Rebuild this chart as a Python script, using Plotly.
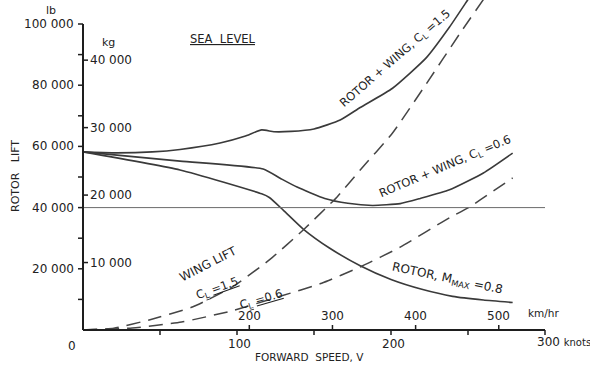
import plotly.graph_objects as go

# ---------------- data (forward speed in knots, lift in lb) ----------------
speed_rw15 = [0, 20, 45, 63, 89, 105, 116, 124, 135, 150, 167, 180, 201, 223, 238, 250, 254]
lift_rw15 = [58200, 57900, 58200, 59000, 61100, 63300, 65400, 64800, 64900, 65700, 68600, 72700,
             79000, 89000, 99000, 108000, 111000]

speed_rw06 = [0, 63, 117, 128, 139, 157, 172, 188, 206, 219, 238, 260, 279]
lift_rw06 = [58200, 55200, 52600, 49600, 46700, 43000, 41400, 40700, 41300, 43000, 45800, 51300, 57800]

speed_rotor = [0, 63, 116, 121, 130, 143, 160, 180, 200, 220, 240, 260, 279]
lift_rotor = [58200, 52300, 44500, 43300, 39200, 33000, 26800, 21000, 16500, 13300, 11000, 9800, 9000]

speed_wing15 = [0, 20, 43, 71, 97, 121, 143, 165, 180, 201, 223, 245, 260]
lift_wing15 = [0, 600, 3300, 7500, 14100, 22900, 32700, 43500, 52300, 64400, 80500, 97100, 108000]

speed_wing06 = [0, 32, 64, 97, 128, 155, 180, 206, 238, 250, 279]
lift_wing06 = [0, 650, 2600, 6300, 11000, 15300, 20600, 27100, 36700, 39900, 49700]

design_lift = 40000
design_speeds = [0, 300]

lb_ticks_major = [20000, 40000, 60000, 80000, 100000]
lb_ticks_minor = [10000, 30000, 50000, 70000, 90000]
kg_ticks = [10000, 20000, 30000, 40000]
LB_PER_KG = 2.20462
knot_ticks_major = [0, 100, 200, 300]
knot_ticks_minor = [50, 150, 250]
kmh_ticks = [200, 300, 400, 500]
KMH_PER_KNOT = 1.852

W, H = 590, 365
INK = "#222222"
LINE = "#3a3a3a"
FONT = "DejaVu Sans"


def fmt(v):
    return f"{int(v):,}".replace(",", " ")


def px(x, y):
    return x / W, 1 - y / H


fig = go.Figure()

solid = dict(color=LINE, width=1.6, shape="spline", smoothing=0.5)
fig.add_trace(go.Scatter(x=speed_rw15, y=lift_rw15, mode="lines", line=solid, hoverinfo="skip"))
fig.add_trace(go.Scatter(x=speed_rw06, y=lift_rw06, mode="lines", line=solid, hoverinfo="skip"))
fig.add_trace(go.Scatter(x=speed_rotor, y=lift_rotor, mode="lines", line=solid, hoverinfo="skip"))
dashed = dict(color="#454545", width=1.5, dash="14px,8px", shape="spline", smoothing=0.5)
fig.add_trace(go.Scatter(x=speed_wing15, y=lift_wing15, mode="lines", line=dashed, hoverinfo="skip"))
fig.add_trace(go.Scatter(x=speed_wing06, y=lift_wing06, mode="lines", line=dashed, hoverinfo="skip"))
fig.add_trace(go.Scatter(x=design_speeds, y=[design_lift, design_lift], mode="lines",
                         line=dict(color="#6a6a6a", width=1), hoverinfo="skip"))

shapes = []
# axis lines
shapes.append(dict(type="line", x0=0, x1=0, y0=0, y1=lb_ticks_major[-1], xref="x", yref="y",
                   line=dict(color="#1e1e1e", width=2)))
shapes.append(dict(type="line", x0=0, x1=knot_ticks_major[-1], y0=0, y1=0, xref="x", yref="y",
                   line=dict(color="#1e1e1e", width=2)))
tick_line = dict(color="#1e1e1e", width=1.5)
for v in lb_ticks_major + lb_ticks_minor:
    shapes.append(dict(type="line", xref="x", yref="y", xsizemode="pixel", xanchor=0,
                       x0=-5, x1=0, y0=v, y1=v, line=tick_line))
for v in kg_ticks:
    shapes.append(dict(type="line", xref="x", yref="y", xsizemode="pixel", xanchor=0,
                       x0=0, x1=5, y0=v * LB_PER_KG, y1=v * LB_PER_KG, line=tick_line))
for v in knot_ticks_major[1:] + knot_ticks_minor:
    shapes.append(dict(type="line", xref="x", yref="y", ysizemode="pixel", yanchor=0,
                       x0=v, x1=v, y0=-5, y1=0, line=tick_line))
for v in kmh_ticks:
    shapes.append(dict(type="line", xref="x", yref="y", ysizemode="pixel", yanchor=0,
                       x0=v / KMH_PER_KNOT, x1=v / KMH_PER_KNOT, y0=0, y1=5, line=tick_line))

ann = []
tf = dict(family=FONT, size=12, color=INK)
sf = dict(family=FONT, size=11, color=INK)
for v in lb_ticks_major:
    ann.append(dict(x=0, y=v, xref="x", yref="y", text=fmt(v), showarrow=False,
                    xanchor="right", yanchor="middle", xshift=-7, font=tf))
for v in kg_ticks:
    ann.append(dict(x=0, y=v * LB_PER_KG, xref="x", yref="y", text=fmt(v), showarrow=False,
                    xanchor="left", yanchor="middle", xshift=5, font=tf))
for v in knot_ticks_major:
    if v == 0:
        ann.append(dict(x=v, y=0, xref="x", yref="y", text="0", showarrow=False,
                        xanchor="center", yanchor="top", xshift=-11, yshift=-7, font=tf))
    elif v == 300:
        ann.append(dict(x=v, y=0, xref="x", yref="y",
                        text="300 <span style='font-size:10px'>knots</span>", showarrow=False,
                        xanchor="left", yanchor="top", xshift=-10, yshift=-3, font=tf))
    else:
        ann.append(dict(x=v, y=0, xref="x", yref="y", text=str(v), showarrow=False,
                        xanchor="center", yanchor="top", xshift=2, yshift=-5, font=tf))
for v in kmh_ticks:
    ann.append(dict(x=v / KMH_PER_KNOT, y=0, xref="x", yref="y", text=str(v), showarrow=False,
                    xanchor="center", yanchor="bottom", yshift=5, font=tf))


def note(text, x, y, angle=0, font=sf, **kw):
    xp, yp = px(x, y)
    ann.append(dict(x=xp, y=yp, xref="paper", yref="paper", text=text, showarrow=False,
                    textangle=angle, xanchor="center", yanchor="middle", font=font, **kw))


note("lb", 51, 10, font=dict(family=FONT, size=11, color=INK))
note("kg", 108, 43, font=dict(family=FONT, size=11, color=INK))
note("km/hr", 544, 313, font=dict(family=FONT, size=10.5, color=INK))
note("ROTOR&nbsp;&nbsp;&nbsp;LIFT", 15, 176, angle=-90, font=dict(family=FONT, size=11, color=INK))
note("FORWARD&nbsp;&nbsp;SPEED, V", 309, 357, font=dict(family=FONT, size=10.5, color=INK))
note("<u>SEA&nbsp;&nbsp;LEVEL</u>", 223, 39, font=dict(family=FONT, size=11.5, color=INK))
note("ROTOR + WING, C<sub>L</sub> =1.5", 395, 58, angle=-41, font=dict(family=FONT, size=11.5, color=INK))
note("ROTOR + WING, C<sub>L</sub> =0.6", 445, 166, angle=-23, font=dict(family=FONT, size=11.5, color=INK))
note("ROTOR, M<sub>MAX</sub> =0.8", 447, 279, angle=12, font=dict(family=FONT, size=12, color=INK))
note("WING LIFT", 208, 264, angle=-27, font=dict(family=FONT, size=12, color=INK))
note("C<sub><u>L</u></sub> <u>=1.5</u>", 217, 288, angle=-20, font=dict(family=FONT, size=11.5, color=INK))
note("C<sub><u>L</u></sub> <u>=0.6</u>", 261, 299, angle=-16, font=dict(family=FONT, size=11.5, color=INK))

# pixel geometry -> axis ranges (0 kt at x=83 px, 300 kt at 545 px; 0 lb at y=330, 100000 lb at y=24)
x_px0, x_px1 = 83, 545
y_px0, y_px1 = 330, 24
kt_per_px = 300 / (x_px1 - x_px0)
lb_per_px = 100000 / (y_px0 - y_px1)
x_range = [-x_px0 * kt_per_px, (W - x_px0) * kt_per_px]
y_range = [-(H - y_px0) * lb_per_px, y_px0 * lb_per_px]

fig.update_layout(
    width=W, height=H,
    margin=dict(l=0, r=0, t=0, b=0),
    paper_bgcolor="white", plot_bgcolor="white",
    showlegend=False,
    xaxis=dict(range=x_range, visible=False, fixedrange=True),
    yaxis=dict(range=y_range, visible=False, fixedrange=True),
    shapes=shapes,
    annotations=ann,
)

fig.write_html("out.html")
